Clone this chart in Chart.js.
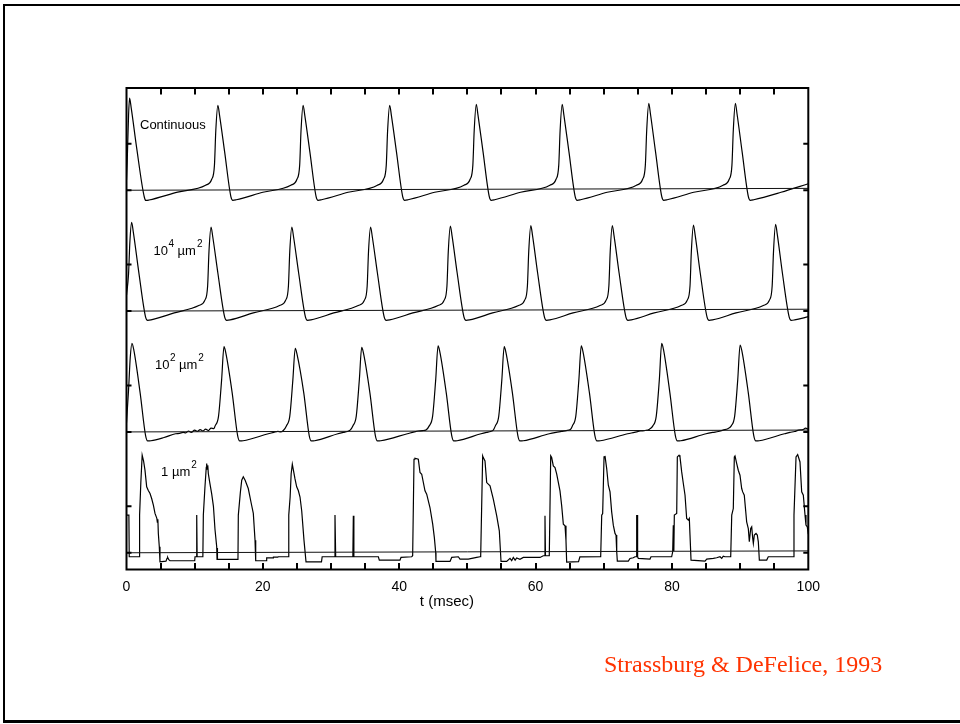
<!DOCTYPE html>
<html>
<head>
<meta charset="utf-8">
<script src="https://cdn.jsdelivr.net/npm/chart.js@4.4.1/dist/chart.umd.min.js"></script>
<style>
html,body{margin:0;padding:0;background:#fff;width:960px;height:724px;overflow:hidden;}
#frame{position:absolute;left:3px;top:4px;width:1000px;height:714px;border-left:2px solid #000;border-top:2px solid #000;border-bottom:3px solid #000;}
#wrap{position:absolute;left:0;top:0;width:960px;height:724px;}
#cite{position:absolute;left:604px;top:651.6px;font-family:"Liberation Serif","Times New Roman",serif;font-size:24px;line-height:24px;color:#ff3300;white-space:nowrap;}
</style>
</head>
<body>
<div id="frame"></div>
<div id="wrap"><canvas id="c" width="960" height="724"></canvas></div>
<div id="cite">Strassburg &amp; DeFelice, 1993</div>
<script>
// ---- data (time in msec, membrane potential in mV) ----
const panelOffsets = [390, 260, 130, 0];      // vertical stacking of the four traces (mV)
const refLine = [[0, -50], [100, -48]];       // reference line drawn in each panel
const xTickLabels = [0, 20, 40, 60, 80, 100];
const yTickLevels = [0, -50];

const continuous = [
  [0,-39],[0.1,-20],[0.3,30],[0.45,49],
  [0.7,38],[1.5,-5],[2.6,-57],[2.85,-61],[3.3,-60.5],[7.5,-52],
  [11.6,-44.6],[12.5,-38.2],[12.9,-23],[13.1,14.5],[13.4,41.4],
  [13.65,30.6],[14.4,-9],[15.3,-56.5],[15.6,-60.8],[16.1,-60.2],[20,-52.2],
  [24.1,-44.6],[25.0,-38.2],[25.4,-23],[25.6,14.5],[25.9,41.4],
  [26.15,30.6],[26.9,-9],[27.8,-56.5],[28.1,-60.8],[28.6,-60.2],[32.5,-52.2],
  [36.8,-44.6],[37.7,-38.2],[38.1,-23],[38.3,14.5],[38.6,41.4],
  [38.85,30.6],[39.6,-9],[40.5,-56.5],[40.8,-60.8],[41.3,-60.2],[45.2,-52.2],
  [49.5,-44.6],[50.4,-38.2],[50.8,-23],[51.0,14.5],[51.3,42.5],
  [51.55,31],[52.3,-9],[53.2,-56.5],[53.5,-60.8],[54.0,-60.2],[57.8,-52.2],
  [62.1,-44.6],[63.0,-38.2],[63.4,-23],[63.6,14.5],[63.9,42.5],
  [64.15,31],[64.9,-9],[65.8,-56.5],[66.1,-60.8],[66.6,-60.2],[70.5,-52.2],
  [74.8,-44.6],[75.7,-38.2],[76.1,-23],[76.3,14.5],[76.6,43.5],
  [76.85,32],[77.6,-9],[78.5,-56.5],[78.8,-60.8],[79.3,-60.2],[83.2,-52.2],
  [87.5,-44.6],[88.4,-38.2],[88.8,-23],[89.0,14.5],[89.3,43.5],
  [89.55,32],[90.3,-9],[91.2,-56.5],[91.5,-60.8],[92.0,-60.2],[96,-52.2],[100,-43]
];

const patch1e4 = [
  [0,-33],[0.3,-10],[0.5,25],[0.75,45.5],
  [1.0,35],[1.8,-8],[2.8,-56.5],[3.1,-60],[3.6,-59.5],[7.0,-52],
  [10.6,-44],[11.5,-38.2],[11.9,-23],[12.1,14.5],[12.4,40.3],
  [12.65,30],[13.4,-9],[14.4,-56.5],[14.7,-60],[15.2,-59.5],[18.6,-52],
  [22.45,-44],[23.35,-38.2],[23.75,-23],[23.95,14.5],[24.25,40.3],
  [24.5,30],[25.25,-9],[26.25,-56.5],[26.55,-60],[27.05,-59.5],[30.4,-52],
  [34.0,-44],[34.9,-38.2],[35.3,-23],[35.5,14.5],[35.8,40.3],
  [36.05,30],[36.8,-9],[37.8,-56.5],[38.1,-60],[38.6,-59.5],[42.0,-52],
  [45.7,-44],[46.6,-38.2],[47.0,-23],[47.2,14.5],[47.5,41.4],
  [47.75,31],[48.5,-9],[49.5,-56.5],[49.8,-60],[50.3,-59.5],[53.7,-52],
  [57.5,-44],[58.4,-38.2],[58.8,-23],[59.0,14.5],[59.3,42],
  [59.55,31.5],[60.3,-9],[61.3,-56.5],[61.6,-60],[62.1,-59.5],[65.5,-52],
  [69.45,-44],[70.35,-38.2],[70.75,-23],[70.95,14.5],[71.25,42],
  [71.5,31.5],[72.25,-9],[73.25,-56.5],[73.55,-60],[74.05,-59.5],[77.4,-52],
  [81.35,-44],[82.25,-38.2],[82.65,-23],[82.85,14.5],[83.15,42.5],
  [83.4,32],[84.15,-9],[85.15,-56.5],[85.45,-60],[85.95,-59.5],[89.4,-52],
  [93.4,-44],[94.3,-38.2],[94.7,-23],[94.9,14.5],[95.2,43.2],
  [95.45,32.5],[96.2,-9],[97.2,-56.5],[97.5,-60],[98.0,-59.5],[100,-56]
];

const patch1e2 = [
  [0,-40],[0.3,-5],[0.55,30],[0.8,45.3],
  [1.05,39],[2.0,-8],[2.8,-54],[3.1,-59.7],[3.6,-59.5],[5.5,-56],[7.2,-52],[7.8,-51.5],[8.3,-50.5],[8.7,-51],[9.1,-49],[9.5,-50.5],[10.0,-48],[10.4,-49.5],[10.8,-47.5],[11.2,-49],[11.6,-47],[12.0,-48.5],[12.4,-46],[12.8,-46.5],[13.0,-43.5],[13.5,-33],[13.95,6],[14.3,41.7],
  [14.55,35.5],[15.5,-8],[16.3,-54],[16.6,-59.7],[17.1,-59.5],[20.8,-52],[21.6,-50.5],[22.2,-49.5],[22.6,-50],[23.0,-48.5],[23.45,-43.5],[23.95,-33],[24.4,6],[24.75,40],
  [25.0,34],[26.0,-8],[26.8,-54],[27.1,-59.7],[27.6,-59.5],[31.0,-52],[31.8,-50.5],[32.4,-49.5],[32.8,-48],[33.2,-43.5],[33.7,-33],[34.15,6],[34.5,41],
  [34.75,35],[35.7,-8],[36.5,-54],[36.8,-59.7],[37.3,-59.5],[41.2,-52],[42.2,-50],[42.8,-49],[43.4,-48.5],[43.9,-48],[44.4,-43.5],[44.9,-33],[45.35,6],[45.7,42.5],
  [45.95,36.5],[46.9,-8],[47.7,-54],[48.0,-59.7],[48.5,-59.5],[52.0,-52],[52.8,-50.5],[53.4,-49.5],[53.8,-48],[54.1,-43.5],[54.6,-33],[55.05,6],[55.4,41.7],
  [55.65,35.5],[56.6,-8],[57.4,-54],[57.7,-59.7],[58.2,-59.5],[62.0,-52],[63.0,-50.5],[63.8,-49.5],[64.5,-48.5],[65.1,-47.5],[65.4,-43.5],[65.9,-33],[66.35,6],[66.7,42.5],
  [66.95,36.5],[67.9,-8],[68.7,-54],[69.0,-59.7],[69.5,-59.5],[73.5,-52],[74.5,-50.5],[75.4,-49],[76.1,-48.5],[76.7,-47],[77.2,-43.5],[77.7,-33],[78.15,6],[78.5,45.3],
  [78.75,39],[79.7,-8],[80.5,-54],[80.8,-59.7],[81.3,-59.5],[85.0,-52],[86.0,-50.5],[86.8,-49.5],[87.5,-48],[88.2,-46.5],[88.7,-43.5],[89.2,-33],[89.65,6],[90.0,43.5],
  [90.25,37.5],[91.2,-8],[92.0,-54],[92.3,-59.7],[92.8,-59.5],[96.5,-52],[97.3,-50.5],[98.0,-49.5],[98.6,-48],[99.2,-47.5],[99.6,-46],[100,-47]
];

const patch1 = [
  [0,-9.5],[0.35,-9.5],[0.4,-54.3],[1.85,-54.3],[1.92,-9.5],[2.1,25],[2.3,55],[2.5,49],[2.71,38.9],[2.96,21],[3.2,17],[3.45,13.8],[3.69,8.4],[3.95,1],[4.18,-7.7],[4.45,-13],[4.52,-17],[4.6,-14],[4.67,-29.2],[4.81,-43.5],[4.91,-59.7],
  [5.79,-59],[5.95,-56],[6.04,-55],[6.2,-57.5],[6.38,-58.6],[10.0,-58.6],[10.05,-54.3],[10.25,-54.3],[10.3,-9.5],[10.36,-54.3],[11.2,-54.3],
  [11.27,-9.5],[11.5,20],[11.7,42],[11.76,46],[11.85,40],[11.92,44],[12.0,35.3],[12.2,26],[12.5,13],[12.75,0],[12.98,-25],[13.23,-43.5],[13.28,-57.2],[13.32,-45],[13.36,-57.2],[16.35,-57.2],
  [16.4,-9.5],[16.7,15],[16.9,28],[17.13,31.7],[17.4,28],[17.86,19.1],[18.3,3],[18.6,-7.7],[18.85,-36.4],[18.95,-58.6],[20.5,-58.6],[20.56,-55.5],[21.5,-55.5],[21.55,-54.6],[22.2,-54.6],[22.27,-54.3],[23.74,-54.3],
  [23.8,-9.5],[24.0,10],[24.15,35],[24.32,45.3],[24.5,38],[24.7,30],[24.96,21],[25.2,17],[25.45,10],[25.7,-5],[26.03,-36.4],[26.33,-59.7],[28.6,-59.7],[28.7,-54.3],[30.5,-54.3],[30.58,-9.5],[30.68,-54.3],
  [33.2,-54.3],[33.27,-10.3],[33.35,-54.3],[36.94,-54.3],[37.08,-57.9],[40.11,-57.9],[40.26,-55],[41.83,-54.3],[41.97,-53.2],
  [42.17,50.6],[42.31,51.7],[42.8,50.6],[43.05,36.3],[43.3,34.5],[43.78,16.6],[44.03,13],[44.51,-1.3],[44.91,-19.2],[45.15,-33.5],[45.35,-49.6],[45.39,-59.3],[47.45,-59.3],[47.7,-55],[48.67,-54.3],[48.91,-56.8],[50.13,-56.8],[51.36,-55],[51.85,-54.3],[51.95,-53.2],
  [52.24,54.2],[52.33,52.4],[52.58,48.8],[52.83,25.5],[53.32,22],[53.8,7.6],[54.3,-10.3],[54.68,-26.4],[54.93,-59.3],[55.76,-59.3],[56.25,-56],[56.5,-58.5],[56.73,-55],[57.0,-58],[57.23,-55.5],[57.71,-57],[58.2,-55],[60.65,-55],[61.13,-53.2],[61.3,-53.2],[61.38,-10.3],[61.45,-53.2],[62.01,-53.2],
  [62.22,54.2],[62.36,52.4],[62.6,43.4],[62.85,41.6],[63.1,34.5],[63.58,16.6],[63.83,0.5],[64.07,-19.2],[64.32,-21],[64.46,-37],[64.56,-60],[66.3,-59.5],[66.5,-54.5],[69.55,-54.3],
  [69.7,-9.5],[69.84,-7.8],[70.04,53.1],[70.18,54.2],[70.43,40.6],[70.67,22.7],[70.92,15.5],[71.16,-6],[71.4,-20.3],[71.65,-29.2],[71.8,-31],[71.9,-48.9],[71.99,-58.9],[73.6,-58.9],[73.85,-56.1],[74.33,-55.4],[74.58,-54.3],[74.75,-54.3],[74.83,-9.5],[74.9,-54.3],[74.95,-9.5],[74.98,-54.3],[75.07,-56.1],[76.78,-56.8],[76.93,-54.3],[79.96,-54.3],[80.11,-48.9],[80.2,-20.3],[80.28,-48],
  [80.35,-9.5],[80.7,-7.8],[80.79,53.1],[81.04,54.9],[81.18,53.1],[81.43,37],[81.67,24.5],[81.92,11.9],[82.16,-13.1],[82.4,-14.9],[82.55,-13.1],[82.65,-31],[82.8,-57.9],[84.85,-58.9],[85.1,-56.8],[86.07,-56.1],[86.56,-55.4],[87.05,-54.3],[87.3,-56.1],[87.53,-53.6],[87.78,-54.3],[88.62,-54.3],
  [88.77,-9.5],[89.0,-2.4],[89.15,53.1],[89.25,54.2],[89.5,45.9],[89.73,38.8],[89.98,33.4],[90.23,19.1],[90.38,15.5],[90.61,11.9],[90.96,-16.7],[91.2,-23.9],[91.35,-38.2],[91.55,-23.9],[91.7,-22.1],[91.85,-34.6],[91.94,-40],[92.08,-31],[92.33,-29.2],[92.52,-31],[92.67,-38.2],[92.82,-57.9],[93.9,-57.9],[94.13,-54.3],[97.8,-54.3],
  [97.9,-9.5],[98.2,53.1],[98.44,55.6],[98.78,47.7],[99.03,15.5],[99.27,11.9],[99.52,-9.5],[99.66,-20.3],[99.85,-22.1],[100,-30]
];

const panelLabels = [
  [{text:'Continuous'}],
  [{text:'10'},{text:'4',sup:true,gap:0.5},{text:'\u00b5m',gap:3.5},{text:'2',sup:true,gap:1}],
  [{text:'10'},{text:'2',sup:true,gap:0.5},{text:'\u00b5m',gap:3.5},{text:'2',sup:true,gap:1}],
  [{text:'1'},{text:'\u00b5m',gap:3.8},{text:'2',sup:true,gap:1}]
];
const xTitle = 't (msec)';

// ---- chart ----
const traces = [continuous, patch1e4, patch1e2, patch1];
const smooth = [true, true, true, false];
const datasets = [];
traces.forEach((tr, i) => {
  datasets.push({
    data: refLine.map(([t, v]) => ({x: t, y: v + panelOffsets[i]})),
    borderColor: '#111', borderWidth: 1, pointRadius: 0, tension: 0
  });
  datasets.push({
    data: tr.map(([t, v]) => ({x: t, y: v + panelOffsets[i]})),
    borderColor: '#000', borderWidth: 1.2, pointRadius: 0,
    cubicInterpolationMode: smooth[i] ? 'monotone' : 'default', tension: 0
  });
});

const FONT = '"Liberation Sans", Arial, Helvetica, sans-serif';

const framePlugin = {
  id: 'framePlugin',
  afterDatasetsDraw(chart, args, opts) {
    const {ctx, chartArea: a, scales: {x, y}} = chart;
    ctx.save();
    ctx.strokeStyle = '#000';
    ctx.lineWidth = 2;
    ctx.strokeRect(a.left, a.top, a.right - a.left, a.bottom - a.top);
    // inward x ticks, top and bottom
    ctx.beginPath();
    x.ticks.forEach(tk => {
      if (tk.value <= x.min || tk.value >= x.max) return;
      const px = Math.round(x.getPixelForValue(tk.value));
      ctx.moveTo(px, a.bottom); ctx.lineTo(px, a.bottom - 6.5);
      ctx.moveTo(px, a.top); ctx.lineTo(px, a.top + 6.5);
    });
    // inward y ticks, left and right
    panelOffsets.forEach(off => yTickLevels.forEach(lv => {
      const py = y.getPixelForValue(off + lv);
      ctx.moveTo(a.left, py); ctx.lineTo(a.left + 5, py);
      ctx.moveTo(a.right, py); ctx.lineTo(a.right - 5, py);
    }));
    ctx.stroke();
    // panel labels
    ctx.fillStyle = '#000';
    ctx.textBaseline = 'alphabetic';
    ctx.textAlign = 'left';
    opts.anchors.forEach((an, i) => {
      let cx = x.getPixelForValue(an[0]);
      const by = y.getPixelForValue(panelOffsets[i] + an[1]);
      panelLabels[i].forEach(p => {
        ctx.font = (p.sup ? '10px ' : '13px ') + FONT;
        cx += (p.gap || 0);
        ctx.fillText(p.text, cx, p.sup ? by - 8 : by);
        cx += ctx.measureText(p.text).width;
      });
    });
    // x axis title
    ctx.font = '15px ' + FONT;
    ctx.textAlign = 'center';
    ctx.fillText(xTitle, x.getPixelForValue(opts.titleAt[0]), a.bottom + opts.titleAt[1]);
    ctx.restore();
  }
};

new Chart(document.getElementById('c'), {
  type: 'line',
  data: {datasets},
  options: {
    responsive: false,
    animation: false,
    devicePixelRatio: 1,
    layout: {padding: {left: 126.5, right: 151.7, top: 88, bottom: 124.5}},
    plugins: {
      legend: {display: false},
      tooltip: {enabled: false},
      framePlugin: {
        anchors: [[1.98, 15.9], [3.97, 10.3], [4.18, 17.4], [5.06, 32.6]],
        titleAt: [47.0, 36.5]
      }
    },
    elements: {point: {radius: 0}},
    scales: {
      x: {
        type: 'linear', min: 0, max: 100,
        afterFit: s => { s.height = 30; },
        grid: {display: false, drawTicks: false},
        border: {display: false},
        ticks: {
          stepSize: 5, autoSkip: false, maxRotation: 0, minRotation: 0, padding: 9,
          color: '#000', font: {family: FONT, size: 14},
          callback: v => xTickLabels.includes(v) ? String(v) : ''
        }
      },
      y: {type: 'linear', min: -68, max: 450, display: false}
    }
  },
  plugins: [framePlugin]
});
</script>
</body>
</html>
